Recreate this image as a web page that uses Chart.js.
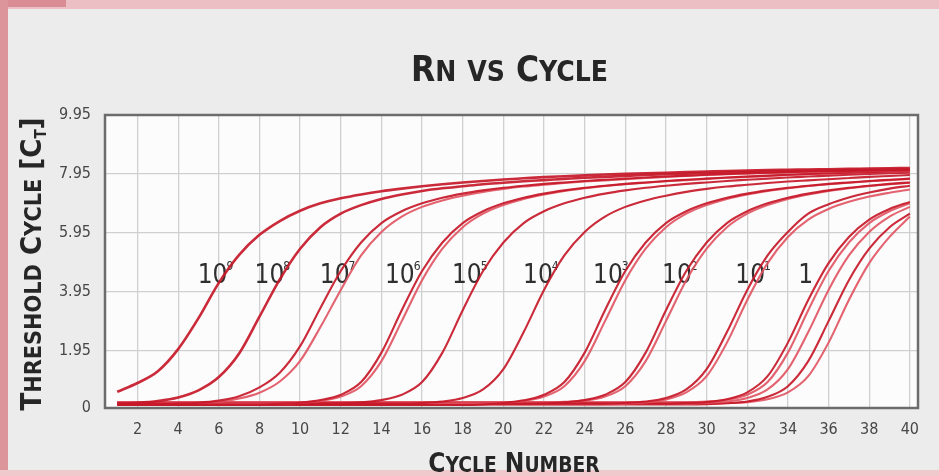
<!DOCTYPE html>
<html>
<head>
<meta charset="utf-8">
<script src="https://cdn.jsdelivr.net/npm/chart.js@4.4.1/dist/chart.umd.min.js"></script>
<style>
  html, body { margin: 0; padding: 0; background: #ececec; }
  #wrap { width: 939px; height: 476px; }
  canvas { display: block; }
</style>
</head>
<body>
<div id="wrap"><canvas id="rn" width="939" height="476"></canvas></div>
<script>
// Amplification curves: normalised reporter (Rn) per PCR cycle, ten-fold dilution series.
const cycles = [1,2,3,4,5,6,7,8,9,10,11,12,13,14,15,16,17,18,19,20,21,22,23,24,25,26,27,28,29,30,31,32,33,34,35,36,37,38,39,40];

const rn_1e9  = [0.55,0.85,1.25,2.0,3.05,4.25,5.2,5.88,6.35,6.7,6.95,7.12,7.25,7.36,7.45,7.53,7.6,7.66,7.71,7.76,7.8,7.84,7.87,7.9,7.93,7.95,7.97,7.99,8.01,8.03,8.05,8.06,8.08,8.09,8.1,8.11,8.12,8.13,8.14,8.15];
const rn_1e8  = [0.15,0.18,0.24,0.36,0.6,1.05,1.85,3.1,4.37,5.41,6.14,6.6,6.89,7.1,7.25,7.37,7.46,7.53,7.6,7.65,7.7,7.74,7.78,7.82,7.85,7.88,7.91,7.94,7.96,7.98,8.0,8.02,8.04,8.05,8.06,8.07,8.08,8.09,8.1,8.11];
const rn_1e7a = [0.15,0.15,0.15,0.16,0.18,0.25,0.4,0.7,1.2,2.1,3.4,4.65,5.62,6.28,6.68,6.95,7.14,7.28,7.39,7.48,7.55,7.61,7.66,7.71,7.75,7.79,7.83,7.86,7.89,7.92,7.95,7.97,7.99,8.01,8.03,8.04,8.05,8.06,8.07,8.08];
const rn_1e7b = [0.2,0.2,0.2,0.2,0.2,0.21,0.32,0.52,0.9,1.6,2.75,4.01,5.18,5.98,6.5,6.83,7.05,7.21,7.34,7.44,7.52,7.58,7.64,7.69,7.73,7.77,7.81,7.85,7.88,7.91,7.94,7.96,7.98,8.0,8.02,8.03,8.04,8.05,8.06,8.07];
const rn_1e6a = [0.12,0.12,0.12,0.12,0.12,0.12,0.12,0.12,0.14,0.18,0.27,0.45,0.88,1.88,3.32,4.65,5.62,6.28,6.68,6.95,7.14,7.28,7.39,7.48,7.55,7.61,7.66,7.71,7.75,7.79,7.83,7.86,7.89,7.92,7.95,7.97,7.99,8.01,8.03,8.04];
const rn_1e6b = [0.15,0.15,0.15,0.15,0.15,0.15,0.15,0.15,0.15,0.18,0.24,0.39,0.74,1.59,2.95,4.34,5.41,6.14,6.6,6.89,7.1,7.25,7.37,7.46,7.54,7.6,7.65,7.7,7.74,7.78,7.82,7.85,7.88,7.91,7.94,7.96,7.98,8.0,8.02,8.03];
const rn_1e5  = [0.15,0.15,0.15,0.15,0.15,0.15,0.15,0.15,0.15,0.15,0.15,0.16,0.19,0.27,0.45,0.88,1.88,3.32,4.65,5.62,6.28,6.68,6.95,7.14,7.28,7.39,7.48,7.55,7.61,7.66,7.71,7.75,7.79,7.83,7.86,7.89,7.92,7.95,7.97,7.99];
const rn_1e4  = [0.15,0.15,0.15,0.15,0.15,0.15,0.15,0.15,0.15,0.15,0.15,0.15,0.15,0.15,0.15,0.17,0.22,0.34,0.63,1.32,2.58,4.01,5.18,5.98,6.5,6.83,7.05,7.21,7.34,7.44,7.52,7.58,7.64,7.69,7.73,7.77,7.81,7.85,7.88,7.91];
const rn_1e3a = [0.1,0.1,0.1,0.1,0.1,0.1,0.1,0.1,0.1,0.1,0.1,0.1,0.1,0.1,0.1,0.1,0.1,0.1,0.12,0.17,0.26,0.45,0.88,1.88,3.32,4.65,5.62,6.28,6.68,6.95,7.14,7.28,7.39,7.48,7.55,7.61,7.66,7.71,7.75,7.79];
const rn_1e3b = [0.15,0.15,0.15,0.15,0.15,0.15,0.15,0.15,0.15,0.15,0.15,0.15,0.15,0.15,0.15,0.15,0.15,0.15,0.15,0.18,0.24,0.39,0.74,1.59,2.95,4.34,5.41,6.14,6.6,6.89,7.1,7.25,7.37,7.46,7.54,7.6,7.65,7.7,7.74,7.78];
const rn_1e2a = [0.15,0.15,0.15,0.15,0.15,0.15,0.15,0.15,0.15,0.15,0.15,0.15,0.15,0.15,0.15,0.15,0.15,0.15,0.15,0.15,0.15,0.16,0.19,0.27,0.45,0.88,1.88,3.32,4.65,5.62,6.28,6.68,6.95,7.14,7.28,7.39,7.48,7.55,7.61,7.66];
const rn_1e2b = [0.2,0.2,0.2,0.2,0.2,0.2,0.2,0.2,0.2,0.2,0.2,0.2,0.2,0.2,0.2,0.2,0.2,0.2,0.2,0.2,0.2,0.2,0.21,0.25,0.39,0.74,1.59,2.95,4.34,5.41,6.14,6.6,6.89,7.1,7.25,7.37,7.46,7.54,7.6,7.65];
const rn_1e1a = [0.15,0.15,0.15,0.15,0.15,0.15,0.15,0.15,0.15,0.15,0.15,0.15,0.15,0.15,0.15,0.15,0.15,0.15,0.15,0.15,0.15,0.15,0.15,0.15,0.15,0.17,0.22,0.34,0.63,1.32,2.58,4.01,5.18,5.98,6.6,6.92,7.15,7.32,7.45,7.55];
const rn_1e1b = [0.12,0.12,0.12,0.12,0.12,0.12,0.12,0.12,0.12,0.12,0.12,0.12,0.12,0.12,0.12,0.12,0.12,0.12,0.12,0.12,0.12,0.12,0.12,0.12,0.13,0.15,0.19,0.29,0.53,1.08,2.22,3.67,4.92,5.81,6.4,6.76,7.0,7.18,7.31,7.42];
const rn_1a   = [0.15,0.15,0.15,0.15,0.15,0.15,0.15,0.15,0.15,0.15,0.15,0.15,0.15,0.15,0.15,0.15,0.15,0.15,0.15,0.15,0.15,0.15,0.15,0.15,0.15,0.15,0.15,0.15,0.17,0.2,0.3,0.53,1.08,2.22,3.67,4.92,5.81,6.4,6.76,7.0];
const rn_1b   = [0.2,0.2,0.2,0.2,0.2,0.2,0.2,0.2,0.2,0.2,0.2,0.2,0.2,0.2,0.2,0.2,0.2,0.2,0.2,0.2,0.2,0.2,0.2,0.2,0.2,0.2,0.2,0.2,0.2,0.22,0.28,0.45,0.88,1.88,3.32,4.65,5.62,6.28,6.68,6.95];
const rn_1c   = [0.15,0.15,0.15,0.15,0.15,0.15,0.15,0.15,0.15,0.15,0.15,0.15,0.15,0.15,0.15,0.15,0.15,0.15,0.15,0.15,0.15,0.15,0.15,0.15,0.15,0.15,0.15,0.15,0.15,0.17,0.22,0.34,0.63,1.32,2.58,4.01,5.18,5.98,6.5,6.83];
const rn_1d   = [0.12,0.12,0.12,0.12,0.12,0.12,0.12,0.12,0.12,0.12,0.12,0.12,0.12,0.12,0.12,0.12,0.12,0.12,0.12,0.12,0.12,0.12,0.12,0.12,0.12,0.12,0.12,0.12,0.12,0.13,0.16,0.22,0.38,0.74,1.59,2.95,4.34,5.41,6.14,6.6];
const rn_1e   = [0.15,0.15,0.15,0.15,0.15,0.15,0.15,0.15,0.15,0.15,0.15,0.15,0.15,0.15,0.15,0.15,0.15,0.15,0.15,0.15,0.15,0.15,0.15,0.15,0.15,0.15,0.15,0.15,0.15,0.15,0.17,0.2,0.3,0.53,1.08,2.22,3.67,4.92,5.81,6.5];

// Replicates in draw order; the second of each pair is drawn in the lighter red.
const curves   = [rn_1e9, rn_1e8, rn_1e7a, rn_1e7b, rn_1e6a, rn_1e6b, rn_1e5, rn_1e4, rn_1e3a, rn_1e3b, rn_1e2a, rn_1e2b, rn_1e1a, rn_1e1b, rn_1a, rn_1b, rn_1c, rn_1d, rn_1e];
const lighter  = [false, false, false, true, false, true, false, false, false, true, false, true, false, true, false, true, true, false, true];

// Dilution labels: base text, exponent, and where they sit (cycle, Rn).
const dilutionBase = ['10','10','10','10','10','10','10','10','10','1'];
const dilutionExp  = ['9','8','7','6','5','4','3','2','1',''];
const labelCycle   = [4.96, 7.76, 10.97, 14.17, 17.47, 20.97, 24.41, 27.81, 31.41, 34.51];
const labelLevel   = 4.25;

const xTicks    = [2,4,6,8,10,12,14,16,18,20,22,24,26,28,30,32,34,36,38,40];
const yTicks    = [0, 1.95, 3.95, 5.95, 7.95, 9.95];
const yTickText = ['0','1.95','3.95','5.95','7.95','9.95'];

const NARROW = "'Liberation Sans Narrow','DejaVu Sans Condensed','Arial Narrow',sans-serif";
const HEAD   = "'DejaVu Sans Condensed','Liberation Sans Narrow',sans-serif";

// Split text into small-caps runs: lowercase letters become reduced capitals.
function capsRuns(text, size, ratio) {
  const runs = [];
  for (const ch of text) {
    const small = ch !== ch.toUpperCase();
    const s = small ? size * ratio : size;
    const last = runs[runs.length - 1];
    if (last && last.size === s && !last.dy) last.t += ch.toUpperCase();
    else runs.push({ t: ch.toUpperCase(), size: s, dy: 0 });
  }
  return runs;
}

function drawRuns(ctx, runs, x, y) {
  let total = 0;
  runs.forEach(r => {
    ctx.font = `bold ${r.size}px ${HEAD}`;
    r.w = ctx.measureText(r.t).width;
    total += r.w;
  });
  let cx = x - total / 2;
  ctx.textAlign = 'left';
  ctx.textBaseline = 'alphabetic';
  runs.forEach(r => {
    ctx.font = `bold ${r.size}px ${HEAD}`;
    ctx.fillText(r.t, cx, y + r.dy);
    cx += r.w;
  });
}

const backdrop = {
  id: 'backdrop',
  beforeDraw(chart) {
    const { ctx, chartArea: a } = chart;
    ctx.save();
    ctx.fillStyle = '#ececec';
    ctx.fillRect(0, 0, chart.width, chart.height);
    ctx.fillStyle = '#ebbfc3';
    ctx.fillRect(0, 0, chart.width, 9);
    ctx.fillStyle = '#d98c93';
    ctx.fillRect(0, 0, 66, 7);
    ctx.fillStyle = '#dc959b';
    ctx.fillRect(0, 0, 8, chart.height);
    ctx.fillStyle = '#f0c9cc';
    ctx.fillRect(0, 470, chart.width, chart.height - 470);
    ctx.fillStyle = '#fcfcfc';
    ctx.fillRect(a.left, a.top, a.right - a.left, a.bottom - a.top);
    ctx.restore();
  }
};

const annotations = {
  id: 'annotations',
  beforeDatasetsDraw(chart) {
    const { ctx, chartArea: a, scales: { x, y } } = chart;
    ctx.save();
    // plot frame
    ctx.strokeStyle = '#6c6c6c';
    ctx.lineWidth = 2.5;
    ctx.strokeRect(a.left, a.top, a.right - a.left, a.bottom - a.top);
    // dilution labels
    ctx.fillStyle = '#2f2f2f';
    ctx.textAlign = 'left';
    ctx.textBaseline = 'alphabetic';
    dilutionBase.forEach((base, i) => {
      const px = x.getPixelForValue(labelCycle[i]);
      const py = y.getPixelForValue(labelLevel);
      ctx.font = `26px ${NARROW}`;
      ctx.fillText(base, px, py);
      if (dilutionExp[i]) {
        const w = ctx.measureText(base).width;
        ctx.font = `12px ${NARROW}`;
        ctx.fillText(dilutionExp[i], px + w - 1, py - 13);
      }
    });
    ctx.restore();
  },
  afterDraw(chart) {
    const { ctx, chartArea: a } = chart;
    ctx.save();
    ctx.fillStyle = '#262626';
    // chart title
    drawRuns(ctx, capsRuns('Rn vs Cycle', 35, 0.8), (a.left + a.right) / 2 - 2, 81);
    // x axis title
    drawRuns(ctx, capsRuns('Cycle Number', 26, 0.8), 514, 472);
    // y axis title with subscript T
    ctx.translate(41, 264);
    ctx.rotate(-Math.PI / 2);
    const runs = capsRuns('Threshold Cycle [C', 29, 0.8);
    runs.push({ t: 'T', size: 15, dy: 5 });
    runs.push({ t: ']', size: 29, dy: 0 });
    drawRuns(ctx, runs, 0, 0);
    ctx.restore();
  }
};

const datasets = curves.map((vals, i) => ({
  data: vals.map((v, k) => ({ x: cycles[k], y: v })),
  borderColor: lighter[i] ? 'rgba(224,82,96,0.9)' : 'rgba(198,24,40,0.92)',
  borderWidth: i < 2 ? 2.6 : 2.1,
  pointRadius: 0,
  fill: false,
  cubicInterpolationMode: 'monotone'
}));

new Chart(document.getElementById('rn'), {
  type: 'line',
  data: { datasets },
  plugins: [backdrop, annotations],
  options: {
    responsive: false,
    animation: false,
    devicePixelRatio: 1,
    layout: { padding: { top: 115, right: 21, left: 0, bottom: 0 } },
    plugins: { legend: { display: false }, title: { display: false }, tooltip: { enabled: false } },
    scales: {
      x: {
        type: 'linear',
        min: 0.4,
        max: 40.4,
        afterFit(scale) { scale.height = 68; },
        afterBuildTicks(scale) { scale.ticks = xTicks.map(v => ({ value: v })); },
        grid: { color: '#d0d0d0', lineWidth: 1.3, drawTicks: false },
        border: { display: false },
        ticks: {
          autoSkip: false, maxRotation: 0, padding: 12,
          color: '#474747', font: { family: NARROW, size: 16 },
          callback: v => String(v)
        }
      },
      y: {
        type: 'linear',
        min: 0,
        max: 9.95,
        afterFit(scale) { scale.width = 105; },
        afterBuildTicks(scale) { scale.ticks = yTicks.map(v => ({ value: v })); },
        grid: { color: '#d0d0d0', lineWidth: 1.3, drawTicks: false },
        border: { display: false },
        ticks: {
          padding: 14,
          color: '#474747', font: { family: NARROW, size: 16 },
          callback: v => yTickText[yTicks.indexOf(v)] ?? ''
        }
      }
    }
  }
});
</script>
</body>
</html>
